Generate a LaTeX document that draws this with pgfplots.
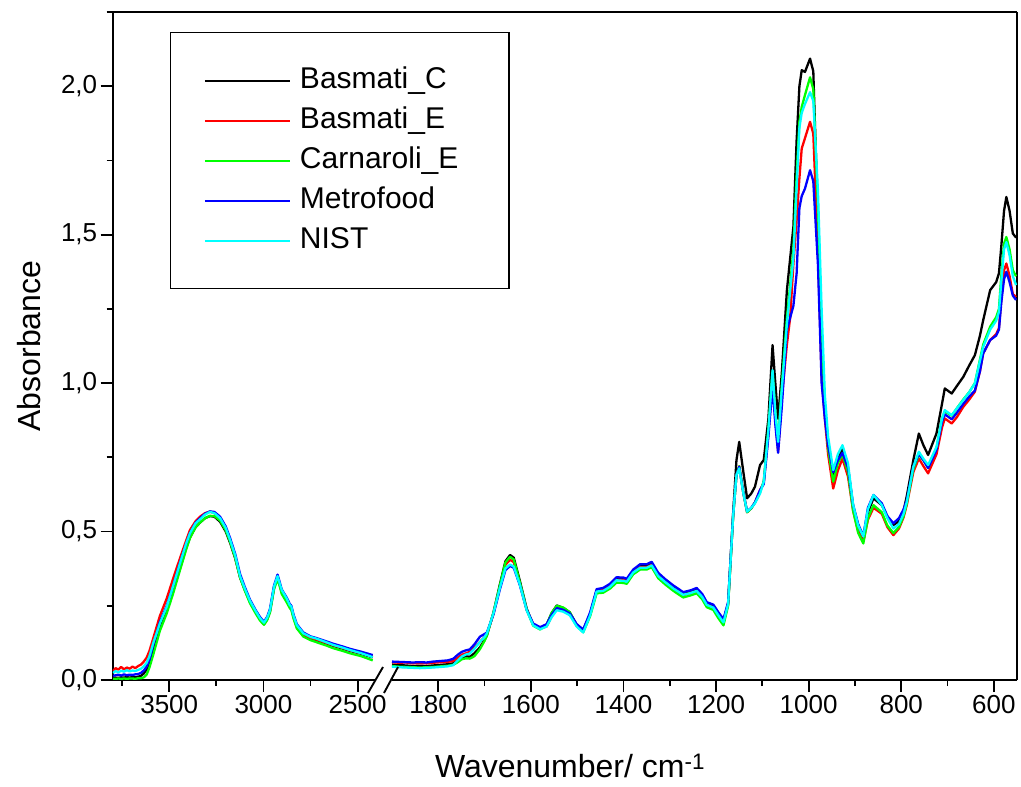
\documentclass[border=0pt]{standalone}
\usepackage{fontspec}
\setmainfont{Liberation Sans}
\usepackage{pgfplots}
\pgfplotsset{compat=1.18}
\usepackage{pgfplotstable}

\pgfplotstableread{
wn BC BE CE MF NI
3798 0.006 0.030 0.004 0.014 0.024
3785 0.008 0.040 0.004 0.016 0.030
3770 0.007 0.035 0.005 0.018 0.026
3755 0.009 0.044 0.004 0.015 0.031
3740 0.008 0.036 0.005 0.019 0.028
3725 0.010 0.042 0.004 0.016 0.033
3710 0.008 0.038 0.005 0.018 0.029
3695 0.010 0.045 0.005 0.017 0.032
3680 0.009 0.040 0.004 0.019 0.030
3665 0.011 0.047 0.006 0.020 0.034
3650 0.014 0.052 0.006 0.024 0.038
3635 0.022 0.062 0.009 0.032 0.046
3620 0.035 0.075 0.018 0.045 0.058
3605 0.058 0.098 0.042 0.068 0.080
3585 0.100 0.140 0.085 0.118 0.124
3550 0.180 0.215 0.165 0.195 0.190
3513 0.235 0.275 0.225 0.250 0.247
3480 0.300 0.340 0.290 0.315 0.315
3443 0.375 0.410 0.370 0.395 0.393
3410 0.445 0.470 0.440 0.460 0.460
3390 0.480 0.505 0.478 0.495 0.494
3360 0.515 0.535 0.515 0.530 0.528
3337 0.530 0.550 0.530 0.545 0.541
3310 0.545 0.562 0.545 0.560 0.557
3284 0.552 0.567 0.553 0.568 0.566
3260 0.550 0.562 0.552 0.566 0.562
3230 0.533 0.543 0.537 0.550 0.545
3200 0.500 0.508 0.504 0.517 0.512
3177 0.462 0.468 0.466 0.478 0.472
3150 0.410 0.414 0.412 0.425 0.420
3124 0.345 0.348 0.345 0.357 0.350
3100 0.305 0.307 0.303 0.315 0.310
3071 0.262 0.264 0.258 0.270 0.266
3040 0.228 0.228 0.223 0.234 0.231
3018 0.205 0.206 0.200 0.212 0.208
2997 0.188 0.190 0.186 0.196 0.193
2980 0.205 0.207 0.202 0.213 0.210
2965 0.232 0.234 0.228 0.240 0.236
2944 0.310 0.312 0.305 0.318 0.314
2925 0.345 0.347 0.340 0.355 0.350
2912 0.318 0.320 0.312 0.326 0.322
2903 0.295 0.298 0.290 0.305 0.303
2877 0.268 0.270 0.262 0.278 0.275
2860 0.248 0.250 0.242 0.256 0.252
2852 0.242 0.244 0.236 0.250 0.247
2840 0.212 0.214 0.206 0.220 0.216
2823 0.180 0.182 0.174 0.188 0.185
2788 0.152 0.154 0.146 0.160 0.157
2750 0.140 0.142 0.134 0.147 0.145
2717 0.134 0.136 0.127 0.141 0.139
2670 0.124 0.126 0.117 0.131 0.128
2629 0.115 0.117 0.107 0.122 0.118
2580 0.106 0.108 0.098 0.113 0.109
2541 0.098 0.100 0.090 0.105 0.101
2480 0.088 0.090 0.080 0.095 0.090
2420 0.076 0.080 0.066 0.084 0.077
}\lefttab

\pgfplotstableread{
wn BC BE CE MF NI
1900 0.052 0.060 0.047 0.062 0.045
1885 0.050 0.058 0.045 0.061 0.043
1870 0.049 0.059 0.044 0.060 0.042
1855 0.047 0.056 0.043 0.059 0.041
1840 0.048 0.057 0.042 0.060 0.040
1825 0.047 0.056 0.043 0.059 0.041
1811 0.049 0.058 0.044 0.062 0.042
1795 0.051 0.060 0.046 0.064 0.044
1780 0.053 0.061 0.048 0.066 0.046
1768 0.056 0.064 0.051 0.071 0.050
1758 0.066 0.075 0.060 0.085 0.066
1749 0.076 0.085 0.070 0.095 0.079
1740 0.080 0.090 0.073 0.100 0.086
1732 0.078 0.095 0.072 0.103 0.089
1722 0.090 0.110 0.080 0.120 0.105
1710 0.110 0.128 0.104 0.146 0.128
1700 0.135 0.145 0.132 0.155 0.145
1695 0.150 0.155 0.150 0.160 0.157
1681 0.226 0.222 0.226 0.220 0.224
1667 0.322 0.312 0.318 0.305 0.310
1655 0.400 0.388 0.396 0.370 0.376
1645 0.421 0.405 0.415 0.384 0.389
1637 0.412 0.397 0.406 0.378 0.382
1624 0.335 0.325 0.330 0.320 0.322
1609 0.240 0.236 0.238 0.236 0.234
1595 0.186 0.187 0.183 0.190 0.184
1580 0.172 0.174 0.170 0.178 0.171
1566 0.186 0.180 0.186 0.188 0.180
1555 0.226 0.215 0.226 0.220 0.212
1544 0.251 0.242 0.250 0.242 0.235
1530 0.243 0.236 0.244 0.236 0.230
1516 0.228 0.222 0.228 0.224 0.218
1501 0.186 0.184 0.182 0.188 0.180
1487 0.168 0.166 0.161 0.170 0.160
1472 0.222 0.222 0.215 0.228 0.218
1458 0.300 0.300 0.292 0.306 0.298
1444 0.304 0.303 0.294 0.310 0.300
1429 0.318 0.317 0.308 0.324 0.314
1415 0.340 0.338 0.328 0.346 0.336
1400 0.340 0.337 0.327 0.345 0.334
1393 0.336 0.334 0.324 0.341 0.331
1379 0.367 0.365 0.356 0.372 0.362
1364 0.383 0.380 0.372 0.390 0.378
1350 0.384 0.380 0.372 0.390 0.378
1339 0.392 0.388 0.380 0.398 0.386
1325 0.356 0.351 0.343 0.361 0.350
1310 0.334 0.330 0.322 0.340 0.330
1292 0.312 0.308 0.300 0.318 0.308
1271 0.290 0.286 0.278 0.296 0.287
1255 0.297 0.293 0.285 0.302 0.293
1242 0.303 0.300 0.292 0.310 0.300
1230 0.284 0.280 0.272 0.290 0.280
1220 0.258 0.254 0.245 0.262 0.253
1206 0.250 0.244 0.236 0.254 0.244
1195 0.226 0.218 0.208 0.228 0.218
1184 0.200 0.195 0.184 0.205 0.194
1174 0.258 0.255 0.250 0.262 0.256
1163 0.565 0.555 0.555 0.560 0.555
1156 0.740 0.690 0.690 0.690 0.690
1150 0.802 0.720 0.720 0.718 0.713
1141 0.700 0.630 0.630 0.630 0.628
1133 0.612 0.565 0.565 0.568 0.567
1124 0.628 0.578 0.578 0.580 0.580
1116 0.651 0.598 0.598 0.598 0.595
1105 0.724 0.640 0.632 0.640 0.628
1097 0.741 0.665 0.670 0.660 0.668
1087 0.880 0.830 0.845 0.820 0.842
1078 1.128 1.010 1.040 0.990 1.044
1072 1.000 0.880 0.900 0.860 0.900
1066 0.880 0.770 0.800 0.765 0.802
1058 1.034 0.950 0.990 0.920 0.980
1047 1.313 1.130 1.220 1.180 1.200
1040 1.420 1.220 1.330 1.220 1.310
1033 1.526 1.400 1.450 1.260 1.420
1026 1.818 1.550 1.700 1.370 1.660
1020 2.000 1.690 1.880 1.590 1.860
1015 2.054 1.790 1.930 1.630 1.910
1008 2.048 1.825 1.970 1.655 1.940
997 2.093 1.880 2.030 1.717 1.980
990 2.050 1.840 1.990 1.680 1.950
980 1.550 1.450 1.600 1.400 1.650
972 1.100 1.020 1.150 1.000 1.250
965 0.920 0.880 0.920 0.880 0.960
958 0.800 0.760 0.780 0.790 0.820
947 0.690 0.645 0.668 0.700 0.707
937 0.745 0.705 0.730 0.740 0.760
927 0.780 0.746 0.760 0.765 0.791
915 0.715 0.685 0.700 0.715 0.730
904 0.585 0.570 0.570 0.590 0.590
893 0.520 0.500 0.495 0.525 0.520
882 0.480 0.465 0.460 0.485 0.483
872 0.565 0.540 0.545 0.580 0.575
860 0.612 0.580 0.589 0.623 0.623
842 0.589 0.560 0.565 0.595 0.589
830 0.550 0.515 0.520 0.552 0.545
817 0.522 0.488 0.495 0.528 0.510
805 0.535 0.510 0.515 0.545 0.525
795 0.570 0.548 0.552 0.575 0.560
788 0.620 0.590 0.595 0.606 0.600
774 0.740 0.700 0.710 0.718 0.718
762 0.830 0.746 0.760 0.762 0.769
752 0.790 0.720 0.740 0.740 0.745
742 0.758 0.696 0.715 0.714 0.724
724 0.830 0.760 0.780 0.775 0.785
712 0.930 0.850 0.880 0.870 0.880
706 0.982 0.881 0.905 0.895 0.909
691 0.965 0.864 0.890 0.878 0.892
680 0.990 0.885 0.915 0.900 0.915
666 1.021 0.920 0.945 0.930 0.943
653 1.060 0.945 0.970 0.955 0.970
641 1.094 0.971 1.000 0.975 0.999
630 1.160 1.040 1.080 1.040 1.075
623 1.212 1.100 1.130 1.100 1.122
608 1.313 1.145 1.190 1.145 1.180
595 1.340 1.165 1.222 1.160 1.210
589 1.370 1.185 1.250 1.180 1.240
584 1.459 1.280 1.360 1.270 1.340
578 1.580 1.380 1.470 1.350 1.450
573 1.627 1.403 1.492 1.375 1.475
566 1.580 1.360 1.450 1.340 1.430
559 1.504 1.300 1.380 1.295 1.360
552 1.490 1.290 1.360 1.280 1.330
}\righttab

\definecolor{cBC}{RGB}{0,0,0}
\definecolor{cBE}{RGB}{255,0,0}
\definecolor{cCE}{RGB}{0,255,0}
\definecolor{cMF}{RGB}{0,0,255}
\definecolor{cNI}{RGB}{0,255,255}

\begin{document}
\begin{tikzpicture}
\useasboundingbox (0,0) rectangle (1021bp,787bp);
\pgfplotsset{
  common/.style={
    scale only axis, height=668bp, ymin=0, ymax=2.25, x dir=reverse,
    anchor=south west,
    tick align=outside, major tick length=12bp, minor tick length=6bp,
    every tick/.append style={black, line width=1.8bp},
    axis line style={line width=1.9bp, -},
    tick label style={font=\fontsize{26bp}{30bp}\selectfont},
    /pgf/number format/assume math mode=true,
    every axis plot/.append style={line width=2.3bp, line join=round},
  },
}
\begin{axis}[common, name=L, at={(112.7bp,107bp)}, width=263.8bp,
  xmin=2400, xmax=3800,
  axis x line*=bottom, axis y line*=left,
  xtick={2500,3000,3500}, minor xtick={2750,3250,3750},
  ytick={0,0.5,1,1.5,2}, minor ytick={0.25,0.75,1.25,1.75,2.25},
  yticklabel style={/pgf/number format/.cd, fixed, fixed zerofill, precision=1, use comma},
  xticklabel style={/pgf/number format/1000 sep={}},
  ylabel={Absorbance},
  ylabel style={at={(axis description cs:-0.317,0.5)}, anchor=center, font=\fontsize{32bp}{38bp}\selectfont},
  legend style={at={(axis description cs:0.2172,0.97006)}, anchor=north west,
    draw=black, line width=1.4bp, fill=white, inner xsep=33bp, inner ysep=34bp,
    row sep=12bp, font=\fontsize{30bp}{36bp}\selectfont,
    nodes={inner sep=0pt, text height=22bp, text depth=6bp, text width=176bp, align=left},
    /tikz/every odd column/.style={column sep=9bp}},
  legend cell align=left,
  legend image code/.code={\draw[#1, line width=2.3bp] (0bp,0bp) -- (85bp,0bp);},
]
\addplot[cBC] table[x=wn, y=BC] {\lefttab};
\addplot[cBE] table[x=wn, y=BE] {\lefttab};
\addplot[cCE] table[x=wn, y=CE] {\lefttab};
\addplot[cMF] table[x=wn, y=MF] {\lefttab};
\addplot[cNI] table[x=wn, y=NI] {\lefttab};
\legend{Basmati\_C, Basmati\_E, Carnaroli\_E, Metrofood, NIST}
\end{axis}
\begin{axis}[common, name=R, at={(392bp,107bp)}, width=625bp,
  xmin=550, xmax=1900,
  axis x line*=bottom, axis y line*=right, ytick=\empty,
  xtick={600,800,...,1800}, minor xtick={700,900,...,1700},
  xticklabel style={/pgf/number format/1000 sep={}},
  xlabel={Wavenumber/ cm\textsuperscript{-1}},
  xlabel style={at={(axis description cs:0.2848,-0.1467)}, anchor=base, font=\fontsize{32bp}{38bp}\selectfont},
]
\addplot[cBC] table[x=wn, y=BC] {\righttab};
\addplot[cBE] table[x=wn, y=BE] {\righttab};
\addplot[cCE] table[x=wn, y=CE] {\righttab};
\addplot[cMF] table[x=wn, y=MF] {\righttab};
\addplot[cNI] table[x=wn, y=NI] {\righttab};
\end{axis}
\draw[line width=1.9bp] (L.north west) -- (R.north east);
\draw[line width=1.9bp] (368bp,94bp) -- (383bp,120bp);
\draw[line width=1.9bp] (384bp,94bp) -- (398bp,120bp);
\end{tikzpicture}
\end{document}
